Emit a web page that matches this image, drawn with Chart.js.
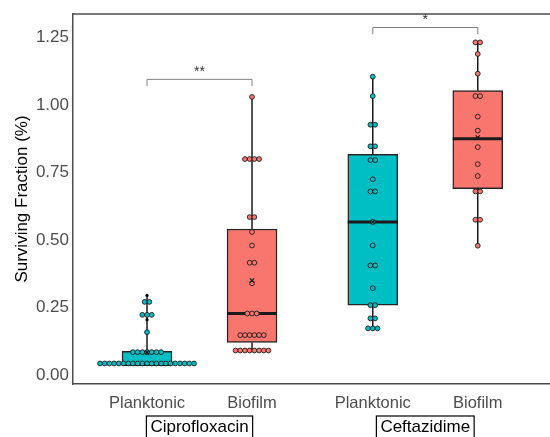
<!DOCTYPE html>
<html lang="en">
<head>
<meta charset="UTF-8">
<title>Surviving Fraction</title>
<style>
  body { margin: 0; background: #fff; }
  #wrap { width: 550px; height: 437px; position: relative; }
</style>
</head>
<body>
<div id="wrap"><canvas id="myChart"></canvas></div>
<script src="https://cdn.jsdelivr.net/npm/chart.js"></script>
<script>
// categories, groups and where they sit on the x axis
var categories = ['Planktonic', 'Biofilm', 'Planktonic', 'Biofilm'];
var groups = ['Ciprofloxacin', 'Ceftazidime'];
var groupMembers = [[0, 1], [2, 3]];
var catPos = [1, 2, 3.15, 4.15];
var yTicks = [0, 0.25, 0.5, 0.75, 1, 1.25];

// box statistics
var q1 = [0.035, 0.121, 0.259, 0.69];
var medians = [0.04, 0.228, 0.567, 0.875];
var q3 = [0.088, 0.541, 0.817, 1.053];
var whiskLow = [0.035, 0.091, 0.173, 0.479];
var whiskHigh = [0.29, 1.03, 1.105, 1.232];
var means = [0.084, 0.35, 0.567, 0.88];

// individual observations (dot plot)
var ciproPlanktonic = [
  0.043, 0.043, 0.043, 0.043, 0.043, 0.043, 0.043, 0.043, 0.043, 0.043, 0.043,
  0.043, 0.043, 0.043, 0.043, 0.043, 0.043, 0.043, 0.043, 0.043, 0.043,
  0.085, 0.085, 0.085, 0.085, 0.085, 0.085, 0.085,
  0.159, 0.223, 0.223, 0.223, 0.271, 0.271
];
var ciproBiofilm = [
  1.03, 0.8, 0.8, 0.8, 0.8, 0.585, 0.585, 0.53, 0.48, 0.416, 0.416, 0.34,
  0.228, 0.228, 0.228, 0.148, 0.148, 0.148, 0.148, 0.148, 0.148,
  0.091, 0.091, 0.091, 0.091, 0.091, 0.091, 0.091, 0.091
];
var cefPlanktonic = [
  1.105, 1.033, 0.927, 0.927, 0.847, 0.847, 0.796, 0.796, 0.725, 0.68, 0.68,
  0.567, 0.48, 0.406, 0.406, 0.322, 0.259, 0.259, 0.21, 0.21, 0.173, 0.173, 0.173
];
var cefBiofilm = [
  1.232, 1.232, 1.189, 1.116, 1.033, 1.033, 0.957, 0.905, 0.844, 0.781, 0.737,
  0.68, 0.68, 0.575, 0.575, 0.479
];
var outliers = [[0.205, 0.295], [], [], []];

// significance brackets
var sigFrom = [0, 2];
var sigTo = [1, 3];
var sigHeight = [1.095, 1.287];
var sigLabels = ['**', '*'];

var colors = ['#00BFC4', '#F8766D', '#00BFC4', '#F8766D'];

var xMin = 0.295, xMax = 4.838;
var dotPx = 4.7;
var step = dotPx * (xMax - xMin) / 477;

// spread equal values side by side, centred on the category
function dots(values, pos) {
  var counts = {};
  values.forEach(function (v) { counts[v] = (counts[v] || 0) + 1; });
  var out = [];
  Object.keys(counts).forEach(function (k) {
    var n = counts[k];
    for (var i = 0; i < n; i++) {
      out.push({ x: pos + (i - (n - 1) / 2) * step, y: parseFloat(k) });
    }
  });
  return out;
}

var allSeries = [ciproPlanktonic, ciproBiofilm, cefPlanktonic, cefBiofilm];
var pointData = [], pointColors = [];
allSeries.forEach(function (s, i) {
  dots(s, catPos[i]).forEach(function (p) { pointData.push(p); pointColors.push(colors[i]); });
});
var outlierData = [];
outliers.forEach(function (o, i) {
  o.forEach(function (v) { outlierData.push({ x: catPos[i], y: v }); });
});

var boxExtras = {
  id: 'boxExtras',
  afterDatasetDraw: function (chart, args) {
    if (args.index !== 0) return;
    var ctx = chart.ctx, xs = chart.scales.x, ys = chart.scales.y;
    var bars = chart.getDatasetMeta(0).data;
    ctx.save();
    ctx.strokeStyle = '#1a1a1a';
    for (var i = 0; i < catPos.length; i++) {
      var x = xs.getPixelForValue(catPos[i]);
      ctx.lineWidth = 1.5;
      ctx.beginPath();
      ctx.moveTo(x, ys.getPixelForValue(q3[i]));
      ctx.lineTo(x, ys.getPixelForValue(whiskHigh[i]));
      ctx.moveTo(x, ys.getPixelForValue(q1[i]));
      ctx.lineTo(x, ys.getPixelForValue(whiskLow[i]));
      ctx.stroke();
      var half = bars[i].width / 2;
      var ym = ys.getPixelForValue(medians[i]);
      ctx.lineWidth = 3;
      ctx.beginPath();
      ctx.moveTo(x - half, ym);
      ctx.lineTo(x + half, ym);
      ctx.stroke();
    }
    ctx.restore();
  },
  afterDraw: function (chart) {
    var ctx = chart.ctx, xs = chart.scales.x, ys = chart.scales.y, a = chart.chartArea;
    ctx.save();
    // top frame line
    ctx.strokeStyle = '#4d4d4d';
    ctx.lineWidth = 1.5;
    ctx.beginPath();
    ctx.moveTo(a.left, a.top);
    ctx.lineTo(a.right, a.top);
    ctx.stroke();

    // significance brackets
    ctx.strokeStyle = '#808080';
    ctx.lineWidth = 1;
    ctx.fillStyle = '#333';
    ctx.font = '14px "Liberation Sans", Arial, sans-serif';
    ctx.textAlign = 'center';
    ctx.textBaseline = 'bottom';
    for (var i = 0; i < sigLabels.length; i++) {
      var x1 = xs.getPixelForValue(catPos[sigFrom[i]]);
      var x2 = xs.getPixelForValue(catPos[sigTo[i]]);
      var y = ys.getPixelForValue(sigHeight[i]);
      var yd = ys.getPixelForValue(sigHeight[i] - 0.025);
      ctx.beginPath();
      ctx.moveTo(x1, yd);
      ctx.lineTo(x1, y);
      ctx.lineTo(x2, y);
      ctx.lineTo(x2, yd);
      ctx.stroke();
      ctx.fillText(sigLabels[i], (x1 + x2) / 2, y);
    }

    // group labels in boxes under the axis
    ctx.font = '17px "Liberation Sans", Arial, sans-serif';
    ctx.fillStyle = '#000';
    ctx.strokeStyle = '#000';
    ctx.lineWidth = 1.2;
    ctx.textBaseline = 'middle';
    for (var g = 0; g < groups.length; g++) {
      var m = groupMembers[g];
      var cx = (xs.getPixelForValue(catPos[m[0]]) + xs.getPixelForValue(catPos[m[m.length - 1]])) / 2;
      var w = ctx.measureText(groups[g]).width + 8;
      ctx.strokeRect(cx - w / 2, a.bottom + 32, w, 30);
      ctx.fillText(groups[g], cx, a.bottom + 43);
    }
    ctx.restore();
  }
};

var ctx = document.getElementById('myChart').getContext('2d');
var myChart = new Chart(ctx, {
  type: 'bar',
  data: {
    datasets: [{
      type: 'bar',
      data: catPos.map(function (p, i) { return { x: p, y: [q1[i], q3[i]] }; }),
      backgroundColor: colors,
      borderColor: '#262626',
      borderWidth: 1.5,
      borderSkipped: false,
      barThickness: 50,
      order: 3
    }, {
      type: 'scatter',
      data: pointData,
      pointRadius: 2.4,
      pointBackgroundColor: pointColors,
      pointBorderColor: '#1a1a1a',
      pointBorderWidth: 0.9,
      order: 2
    }, {
      type: 'scatter',
      data: outlierData,
      pointRadius: 1.6,
      pointBackgroundColor: '#000',
      pointBorderWidth: 0,
      order: 1
    }, {
      type: 'scatter',
      data: catPos.map(function (p, i) { return { x: p, y: means[i] }; }),
      pointStyle: 'crossRot',
      pointRadius: 3,
      pointBorderColor: '#1a1a1a',
      pointBorderWidth: 1.2,
      order: 0
    }]
  },
  options: {
    responsive: true,
    maintainAspectRatio: false,
    animation: false,
    layout: { autoPadding: false, padding: { top: 14, left: 0, right: 0, bottom: 0 } },
    plugins: { legend: { display: false }, tooltip: { enabled: false } },
    scales: {
      x: {
        type: 'linear',
        offset: false,
        min: xMin,
        max: xMax,
        grid: { display: false, drawTicks: false, offset: false },
        border: { display: true, color: '#4d4d4d', width: 1.5 },
        afterBuildTicks: function (axis) {
          axis.ticks = catPos.map(function (v) { return { value: v }; });
        },
        afterFit: function (axis) {
          axis.height = 53;
          axis.paddingLeft = 0;
          axis.paddingRight = 0;
        },
        ticks: {
          autoSkip: false,
          maxRotation: 0,
          padding: 10,
          color: '#4d4d4d',
          font: { family: '"Liberation Sans", Arial, sans-serif', size: 16.5 },
          callback: function (value, index) { return categories[index]; }
        }
      },
      y: {
        min: -0.033,
        max: 1.337,
        grid: { display: false, drawTicks: false },
        border: { display: true, color: '#4d4d4d', width: 1.5 },
        afterBuildTicks: function (axis) {
          axis.ticks = yTicks.map(function (v) { return { value: v }; });
        },
        afterFit: function (axis) {
          axis.width = 73;
          axis.paddingTop = 0;
          axis.paddingBottom = 0;
        },
        ticks: {
          padding: 4,
          color: '#4d4d4d',
          font: { family: '"Liberation Sans", Arial, sans-serif', size: 17 },
          callback: function (value) { return value.toFixed(2); }
        },
        title: {
          display: true,
          text: 'Surviving Fraction (%)',
          color: '#000',
          padding: { top: 12, bottom: 0 },
          font: { family: '"Liberation Sans", Arial, sans-serif', size: 17 }
        }
      }
    }
  },
  plugins: [boxExtras]
});
</script>
</body>
</html>
